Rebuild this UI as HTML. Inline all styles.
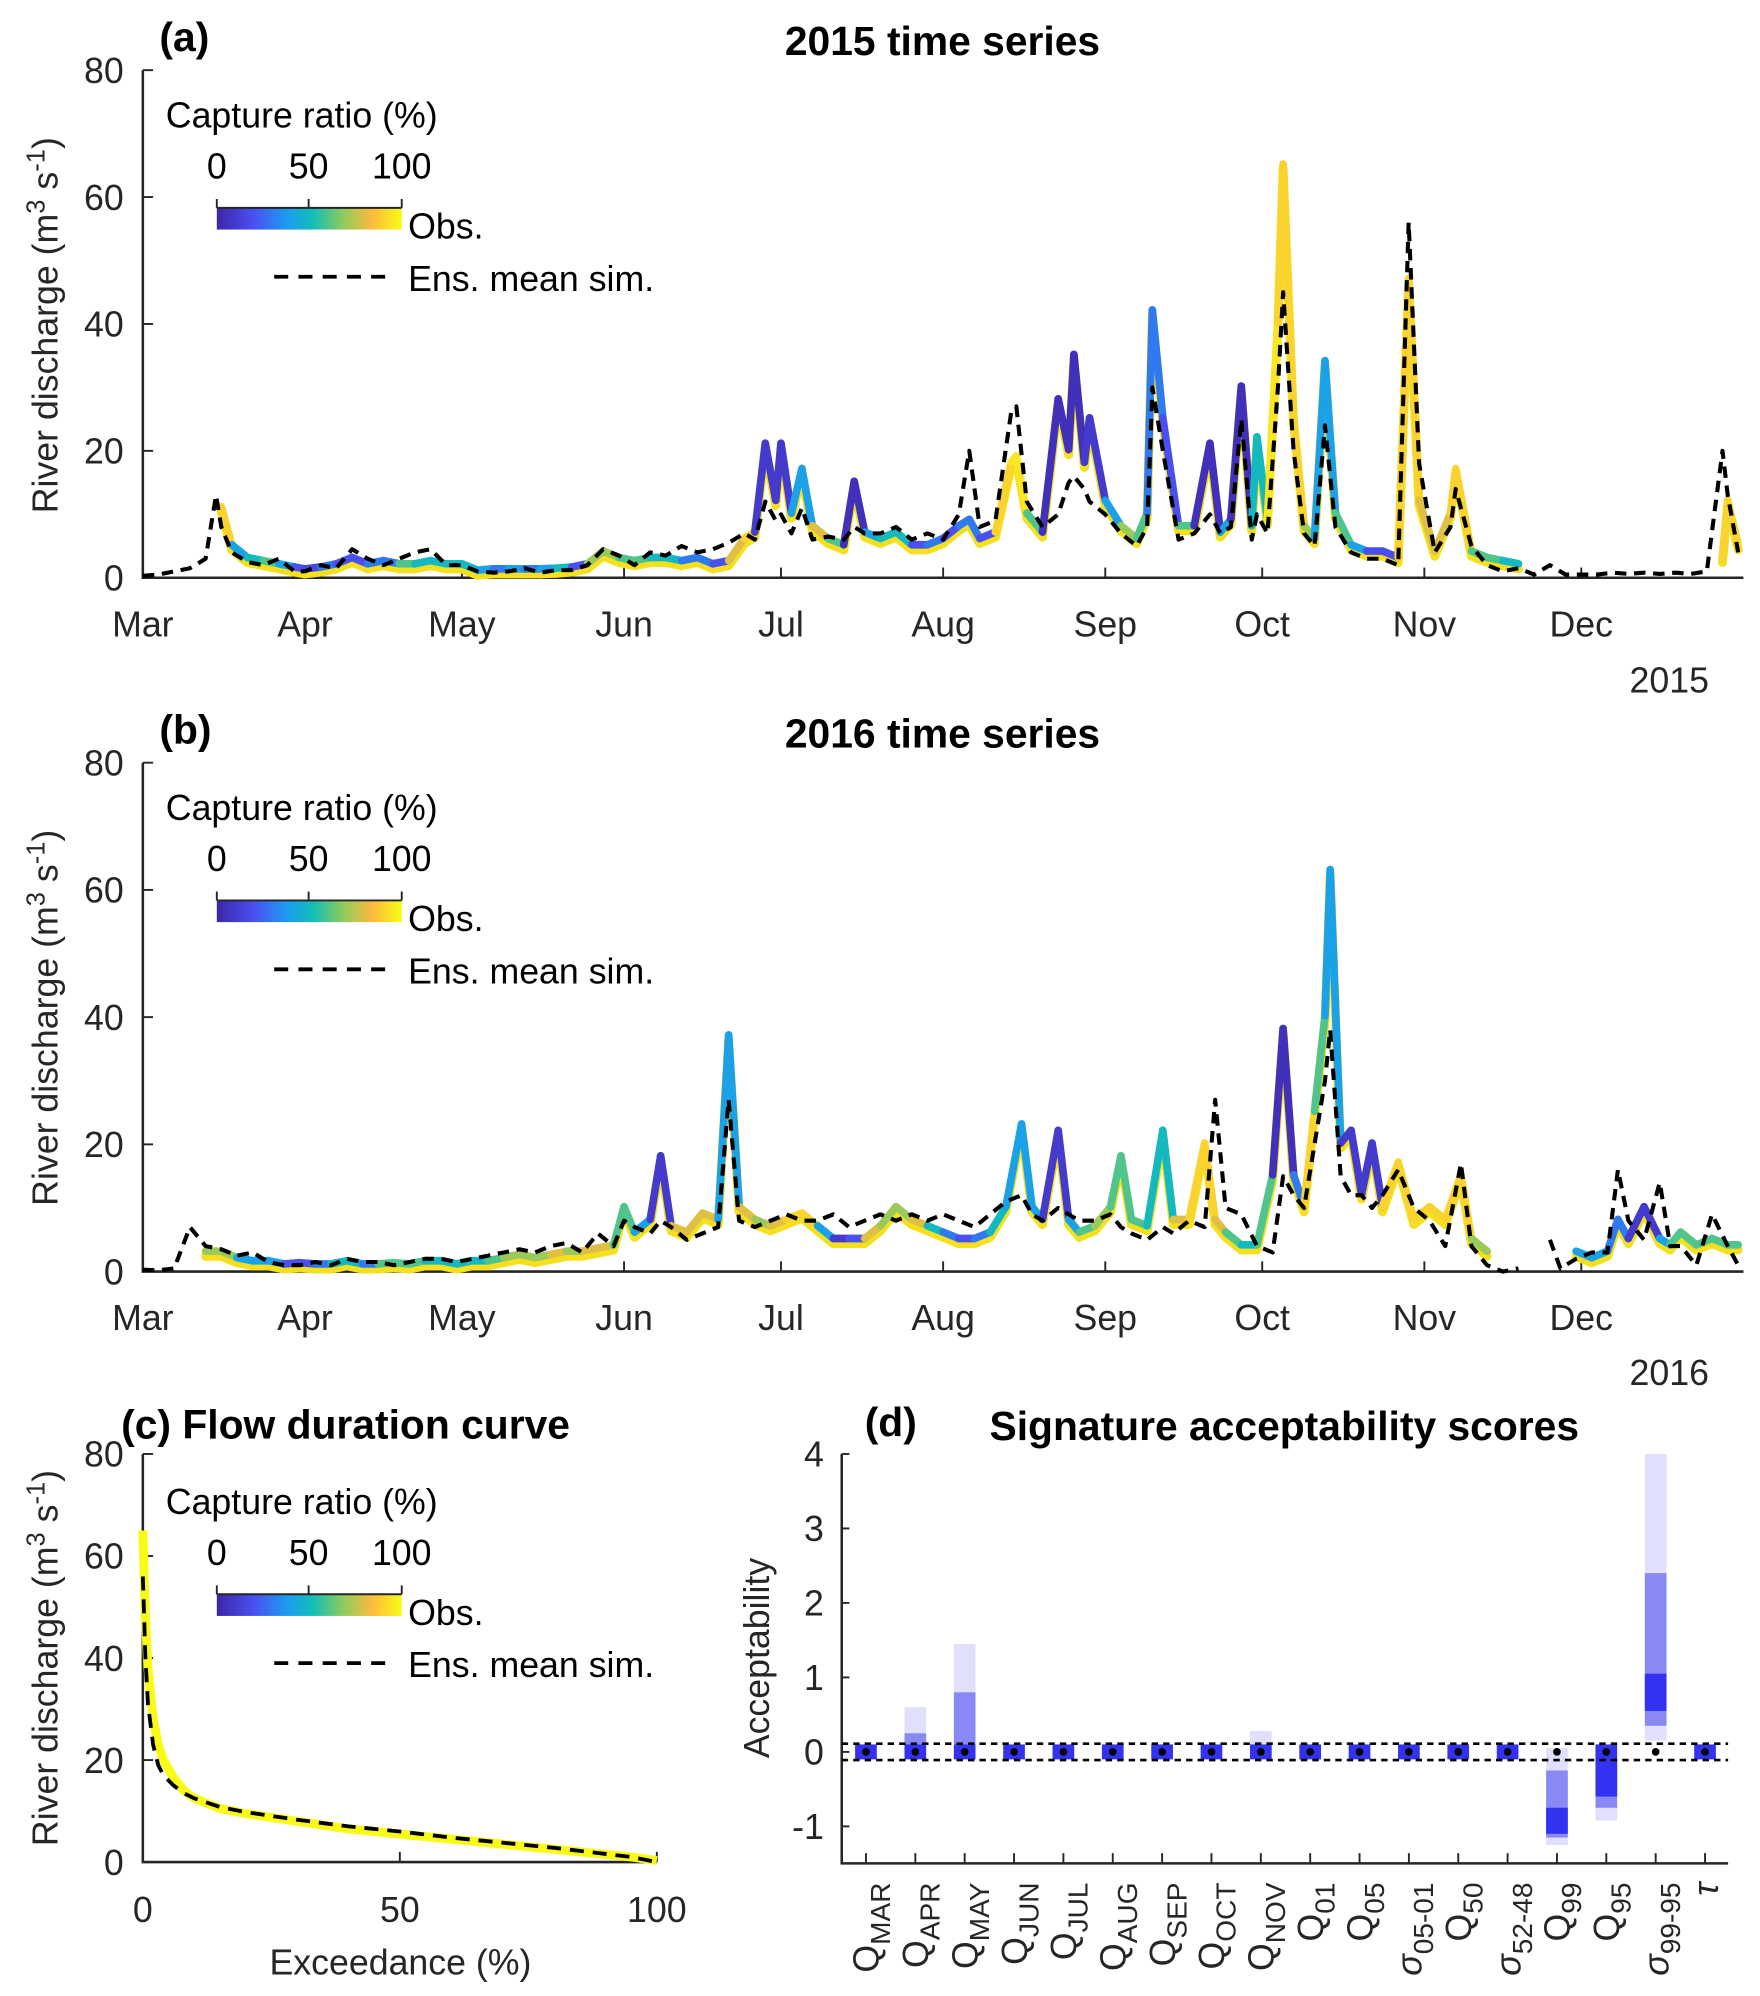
<!DOCTYPE html>
<html><head><meta charset="utf-8"><title>Discharge figure</title>
<style>
html,body{margin:0;padding:0;background:#fff;}
svg{display:block;font-family:"Liberation Sans",sans-serif;}
text{fill:#262626;}
.tk{font-size:28px;}
.ttl{font-size:32px;font-weight:bold;fill:#000;}
.lg{font-size:28px;fill:#000;}
</style></head>
<body>
<svg id="fig" width="1760" height="1996" viewBox="0 0 1380 1565" preserveAspectRatio="none" xmlns="http://www.w3.org/2000/svg">
<defs>
<linearGradient id="parula" x1="0" x2="1" y1="0" y2="0">
<stop offset="0" stop-color="#3e26a8"/><stop offset="0.2" stop-color="#4a50f0"/><stop offset="0.38" stop-color="#1c9cf0"/><stop offset="0.52" stop-color="#13beb8"/><stop offset="0.68" stop-color="#8dcb5e"/><stop offset="0.84" stop-color="#fcbb3d"/><stop offset="1" stop-color="#f9fb15"/>
</linearGradient>
</defs>
<g id="pa">
<text x="125" y="40" class="ttl">(a)</text>
<text x="739" y="43" class="ttl" text-anchor="middle">2015 time series</text>
<text transform="translate(45,255) rotate(-90)" class="tk" text-anchor="middle">River discharge (m<tspan dy="-10" font-size="20">3</tspan><tspan dy="10"> s</tspan><tspan dy="-10" font-size="20">-1</tspan><tspan dy="10">)</tspan></text>
<text x="1340" y="543" class="tk" text-anchor="end">2015</text>
<g id="pa-plot"></g>
<g>
<text x="130" y="100" class="lg">Capture ratio (%)</text>
<text x="170" y="140" class="lg" text-anchor="middle">0</text>
<text x="242" y="140" class="lg" text-anchor="middle">50</text>
<text x="315" y="140" class="lg" text-anchor="middle">100</text>
<rect x="170" y="163" width="145" height="17" fill="url(#parula)"/>
<path d="M170 163H315M170 163v-7M242 163v-7M315 163v-7" stroke="#262626" stroke-width="1.5" fill="none"/>
<text x="320" y="187" class="lg">Obs.</text>
<line x1="215" y1="217" x2="302" y2="217" stroke="#000" stroke-width="3" stroke-dasharray="11 8"/>
<text x="320" y="228" class="lg">Ens. mean sim.</text>
</g>
</g>
<g id="pb">
<text x="125" y="583" class="ttl">(b)</text>
<text x="739" y="586" class="ttl" text-anchor="middle">2016 time series</text>
<text transform="translate(45,798) rotate(-90)" class="tk" text-anchor="middle">River discharge (m<tspan dy="-10" font-size="20">3</tspan><tspan dy="10"> s</tspan><tspan dy="-10" font-size="20">-1</tspan><tspan dy="10">)</tspan></text>
<text x="1340" y="1086" class="tk" text-anchor="end">2016</text>
<g id="pb-plot"></g>
<g>
<text x="130" y="643" class="lg">Capture ratio (%)</text>
<text x="170" y="683" class="lg" text-anchor="middle">0</text>
<text x="242" y="683" class="lg" text-anchor="middle">50</text>
<text x="315" y="683" class="lg" text-anchor="middle">100</text>
<rect x="170" y="706" width="145" height="17" fill="url(#parula)"/>
<path d="M170 706H315M170 706v-7M242 706v-7M315 706v-7" stroke="#262626" stroke-width="1.5" fill="none"/>
<text x="320" y="730" class="lg">Obs.</text>
<line x1="215" y1="760" x2="302" y2="760" stroke="#000" stroke-width="3" stroke-dasharray="11 8"/>
<text x="320" y="771" class="lg">Ens. mean sim.</text>
</g>
</g>
<g id="pc">
<text x="95" y="1128" class="ttl">(c) Flow duration curve</text>
<text transform="translate(45,1300) rotate(-90)" class="tk" text-anchor="middle">River discharge (m<tspan dy="-10" font-size="20">3</tspan><tspan dy="10"> s</tspan><tspan dy="-10" font-size="20">-1</tspan><tspan dy="10">)</tspan></text>
<text x="314" y="1548" class="tk" text-anchor="middle">Exceedance (%)</text>
<g id="pc-plot"></g>
<g>
<text x="130" y="1187" class="lg">Capture ratio (%)</text>
<text x="170" y="1227" class="lg" text-anchor="middle">0</text>
<text x="242" y="1227" class="lg" text-anchor="middle">50</text>
<text x="315" y="1227" class="lg" text-anchor="middle">100</text>
<rect x="170" y="1250" width="145" height="17" fill="url(#parula)"/>
<path d="M170 1250H315M170 1250v-7M242 1250v-7M315 1250v-7" stroke="#262626" stroke-width="1.5" fill="none"/>
<text x="320" y="1274" class="lg">Obs.</text>
<line x1="215" y1="1304" x2="302" y2="1304" stroke="#000" stroke-width="3" stroke-dasharray="11 8"/>
<text x="320" y="1315" class="lg">Ens. mean sim.</text>
</g>
</g>
<g id="pd">
<text x="678" y="1126" class="ttl">(d)</text>
<text x="1007" y="1129" class="ttl" text-anchor="middle">Signature acceptability scores</text>
<text transform="translate(603,1300) rotate(-90)" class="tk" text-anchor="middle">Acceptability</text>
<g id="pd-plot"></g>
</g>
</svg>
<script>
// ===== 2015 data (day index from 1 Mar) =====
const days15 = [0,3,6,9,12,14,15,17,20,23,26,29,31,34,37,40,43,46,49,52,55,58,61,64,67,70,73,76,79,82,85,88,91,94,97,100,103,106,109,112,115,117,119,121,122,124,126,128,131,134,136,138,141,144,147,150,153,156,158,160,163,166,167,169,172,175,177,178,180,181,184,187,190,192,193,195,198,201,204,206,208,210,212,213,215,217,218,220,222,224,226,228,231,234,237,240,242,244,247,250,251,254,257,260,263,266,269,272,275,278,281,284,287,290,293,296,299,302,303,305];
const obs15 = [null,null,null,null,null,null,11,5,3,2.5,2,1.5,1.2,1.5,2,3,2,2.5,2,2,2.5,2,2,1,1.2,1.2,1.2,1.2,1.3,1.5,2,4,3,2.5,3,3,2.5,3,2,2.5,6,7,21,12,21,10,17,8,6,5,15,7,6,7,5,5,6,8,9,6,7,18,19,10,7,28,20,35,18,25,12,8,6,10,42,25,8,8,21,7,9,30,8,22,9,40,65,25,8,6,34,10,5,4,4,3,47,12,4,10,17,4,3,2.5,2,null,null,null,null,null,null,null,null,null,null,null,null,3,12,5];
const cap15 = [0,0,0,0,0,0,90,40,50,60,40,20,10,15,30,20,20,30,50,60,50,60,50,20,40,30,40,30,40,50,20,70,60,70,60,50,20,30,20,20,80,90,10,50,10,60,40,80,60,20,5,40,30,50,20,20,30,20,30,30,20,90,95,60,30,5,10,5,20,10,40,70,70,60,30,20,50,60,5,60,40,5,60,50,60,95,90,90,70,40,40,60,40,30,20,20,90,80,40,80,90,60,60,50,50,0,0,0,0,0,0,0,0,0,0,0,0,20,90,20];
const sim15 = [0.3,0.5,1,1.5,3,13,8,4,2.5,2,3,1,1,2,1.5,4.5,3,2,3,4,4.5,2,2,1,0.8,1,1.5,0.8,1.2,1.2,2,4.5,3.5,2,4,3.5,5,4,4.5,5.5,7,6,12,9,10,7,11,6,6.5,6,8,7,7,8,6,7,6,10,20,8,9,26,27,12,8,10,15,16,14,12,10,7,5,8,30,20,6,7,10,7,8,25,6,10,7,30,45,20,7,5,24,8,4,3,3,2,56,18,4,8,14,5,2,1,1.5,0.5,2,0.5,0.5,0.5,0.8,0.6,0.8,0.6,0.8,0.6,1,20,13,4];
// ===== 2016 data =====
const days16 = [0,3,6,9,12,15,18,21,24,27, 30,33,36,39,42,45,48,51,54,57, 60,63,66,69,72,75,78,81,84,87, 90,92,94,97,99,101,104,107,110,112, 114,117,120,123,126,129,132,135,138,141, 144,147,150,153,156,159,162,165,168,170, 172,175,177,179,182,185,187,189,192,195, 197,200,203,205,207,210,213,216,218,220, 222,224,226,227,229,231,233,235,237,240, 243,246,249,252,254,257,260,263,266,269, 271,274,277,280,282,284,287,290,292,294, 297,300,303,305];
const obs16 = [null,null,null,null,3,3,2,1.5,1.5,1, 1.2,1,1,1.5,1,1,1.2,1,1.5,1.5, 1,1.5,1.5,2,2.5,2,2.5,3,3,3.5, 4,10,6,8,18,7,6,9,8,37, 10,8,7,8,9,7,5,5,5,7, 10,8,7,6,5,5,6,10,23,10, 8,22,8,6,7,10,18,8,7,22, 8,8,20,8,6,4,4,15,38,15, 10,25,40,63,20,22,12,20,10,17, 8,10,8,15,5,3,null,null,null,null, null,3,2,3,8,5,10,5,4,6, 4,5,4,4];
const cap16 = [0,0,0,0,60,70,40,30,40,30, 20,40,30,50,40,30,60,40,60,50, 30,50,50,60,70,60,70,80,70,80, 80,60,60,40,10,80,70,80,90,40, 80,70,80,80,90,40,10,10,20,80, 70,80,50,30,20,20,30,50,40,40, 50,10,40,50,60,70,60,60,70,50, 80,80,90,80,60,50,50,60,5,30, 40,90,60,40,30,10,40,10,60,90, 40,90,40,90,70,80,0,0,0,0, 0,40,50,40,30,60,10,40,80,60, 70,60,60,60];
const sim16 = [0.3,0.2,0.5,7,4,3.5,2.5,3,1.5,1, 1,1.5,1,2,1.5,1.5,1,1.5,2,2, 1.5,2,2.5,3,3.5,3,4,4.5,3,6, 4,8,7,6,8,7,5,6,7,27, 8,7,8,9,8,8,9,7,8,9, 8,9,8,9,8,7,9,11,12,9, 8,10,9,8,8,9,7,6,5,7, 6,8,7,27,10,9,4,3,15,12, 10,20,30,38,15,12,12,10,12,16, 10,8,4,17,4,1,0,0.5,null,5, 0.5,2,3,3,16,8,5,14,4,4, 1,9,4,1];
// ===== Flow duration curve =====
const fdcExc = [0,0.5,1,2,3,4,6,8,10,15,20,30,40,50,60,70,80,90,95,100];
const fdcObs = [65,48,38,28,23,20,16.5,14,12.5,10.5,9.5,8,6.5,5.5,4.5,3.5,2.5,1.5,1,0.3];
const fdcSim = [56,40,31,23,19,17,15,13.5,12.5,10.8,9.8,8.3,7,6,4.8,3.8,2.8,1.6,1,0];
// ===== Signature acceptability =====
const sigCats = ["MAR","APR","MAY","JUN","JUL","AUG","SEP","OCT","NOV","01","05","05-01","50","52-48","99","95","99-95","tau"];
const sigSym = ["Q","Q","Q","Q","Q","Q","Q","Q","Q","Q","Q","σ","Q","σ","Q","Q","σ","τ"];
const coreLo = [-0.1,-0.1,-0.1,-0.1,-0.1,-0.1,-0.1,-0.1,-0.1,-0.1,-0.1,-0.1,-0.1,-0.1,-1.1,-0.6,0.55,-0.1];
const coreHi = [0.1,0.1,0.1,0.1,0.1,0.1,0.1,0.1,0.1,0.1,0.1,0.1,0.1,0.1,-0.75,0.1,1.05,0.1];
const midLo = [0,0.1,0.1,0,0,0,0,0,0,0,0,0,0,0,-1.15,-0.75,0.35,0];
const midHi = [0,0.25,0.8,0,0,0,0,0,0,0,0,0,0,0,-0.25,-0.1,2.4,0];
const fadeLo = [0,0.1,0.1,0,0,0,0,0,0.1,0,0,0,0,0,-1.25,-0.92,0.15,0];
const fadeHi = [0,0.6,1.45,0,0,0,0,0,0.28,0,0,0,0,0,0.05,-0.1,4.0,0];
const sigMedian = [0,0,0,0,0,0,0,0,0,0,0,0,0,0,0,0,0,0];

const NS = "http://www.w3.org/2000/svg";
const months = ["Mar","Apr","May","Jun","Jul","Aug","Sep","Oct","Nov","Dec"];
const monthDays = [0,31,61,92,122,153,184,214,245,275];
function mk(tag, attrs, parent){ const e=document.createElementNS(NS,tag); for(const k in attrs) e.setAttribute(k,attrs[k]); parent.appendChild(e); return e; }
const stops=[[0,[62,38,168]],[0.2,[74,80,240]],[0.38,[28,156,240]],[0.52,[19,190,184]],[0.68,[141,203,94]],[0.84,[252,187,61]],[1,[249,251,21]]];
function parula(p){ p=Math.max(0,Math.min(1,p/100)); for(let i=1;i<stops.length;i++){ if(p<=stops[i][0]){ const a=stops[i-1],b=stops[i],t=(p-a[0])/(b[0]-a[0]); const c=a[1].map((v,j)=>Math.round(v+(b[1][j]-v)*t)); return "rgb("+c.join(",")+")"; } } return "rgb(249,251,21)"; }

function drawTS(gid, days, obs, cap, sim, y0, yTop){
  const g=document.getElementById(gid);
  const xL=112,xR=1367;
  const xs=d=>xL+d*(xR-xL)/306;
  const ys=v=>y0-v*(y0-yTop)/80;
  const ax=mk("path",{d:"M"+xL+" "+yTop+"V"+y0+"H"+xR,stroke:"#262626","stroke-width":2,fill:"none"},g);
  
  
  [0,20,40,60,80].forEach(v=>{
    mk("line",{x1:xL,x2:xL+8,y1:ys(v),y2:ys(v),stroke:"#262626","stroke-width":1.5},g);
    const t=mk("text",{x:97,y:ys(v)+10,"text-anchor":"end",class:"tk"},g); t.textContent=v;
    
    
  });
  months.forEach((m,i)=>{
    const x=xs(monthDays[i]);
    mk("line",{x1:x,x2:x,y1:y0,y2:y0-8,stroke:"#262626","stroke-width":1.5},g);
    const t=mk("text",{x:x,y:y0+46,"text-anchor":"middle",class:"tk"},g); t.textContent=m;
    
    
  });
  const og=mk("g",{},g);
  
  
  // yellow base band (high capture members)
  for(let i=0;i<days.length-1;i++){
    if(obs[i]==null||obs[i+1]==null) continue;
    const b=mk("line",{x1:xs(days[i]),y1:ys(obs[i])+3,x2:xs(days[i+1]),y2:ys(obs[i+1])+3,stroke:"#f5e020","stroke-width":7,"stroke-linecap":"round"},og);
    
    
  }
  for(let i=0;i<days.length-1;i++){
    if(obs[i]==null||obs[i+1]==null) continue;
    const c=(obs[i]>obs[i+1])?cap[i]:cap[i+1];
    const s=mk("line",{x1:xs(days[i]),y1:ys(obs[i])-1,x2:xs(days[i+1]),y2:ys(obs[i+1])-1,stroke:parula(c),"stroke-width":6,"stroke-linecap":"round"},og);
    
    
  }
  let d=""; let pen=false;
  for(let i=0;i<days.length;i++){
    if(sim[i]==null){pen=false;continue;}
    d+=(pen?"L":"M")+xs(days[i]).toFixed(1)+" "+ys(sim[i]).toFixed(1); pen=true;
  }
  const sp=mk("path",{d:d,stroke:"#000","stroke-width":3.2,fill:"none","stroke-dasharray":"9 6","stroke-linejoin":"round"},g);
  
  
}
drawTS("pa-plot",days15,obs15,cap15,sim15,453,55);
drawTS("pb-plot",days16,obs16,cap16,sim16,997,598);

(function(){
  const g=document.getElementById("pc-plot");
  const xL=112,xR=515,y0=1460,yT=1140;
  const xs=v=>xL+v*(xR-xL)/100, ys=v=>y0-v*(y0-yT)/80;
  const ax=mk("path",{d:"M"+xL+" "+yT+"V"+y0+"H"+xR,stroke:"#262626","stroke-width":2,fill:"none"},g);
  
  
  [0,20,40,60,80].forEach(v=>{
    mk("line",{x1:xL,x2:xL+8,y1:ys(v),y2:ys(v),stroke:"#262626","stroke-width":1.5},g);
    const t=mk("text",{x:97,y:ys(v)+10,"text-anchor":"end",class:"tk"},g); t.textContent=v;
    
    
  });
  [0,50,100].forEach(v=>{
    mk("line",{x1:xs(v),x2:xs(v),y1:y0,y2:y0-8,stroke:"#262626","stroke-width":1.5},g);
    const t=mk("text",{x:xs(v),y:1507,"text-anchor":"middle",class:"tk"},g); t.textContent=v;
    
    
  });
  const po=mk("polyline",{points:fdcExc.map((e,i)=>xs(e)+","+ys(fdcObs[i])).join(" "),stroke:"#f9fb15","stroke-width":7,fill:"none","stroke-linejoin":"round"},g);
  
  
  const ps=mk("polyline",{points:fdcExc.map((e,i)=>xs(e)+","+ys(fdcSim[i])).join(" "),stroke:"#000","stroke-width":3,fill:"none","stroke-dasharray":"11 7"},g);
  
  
})();

(function(){
  const g=document.getElementById("pd-plot");
  const xL=660,xR=1355,yT=1140,yB=1461;
  const ys=v=>yT+(4-v)*(1432-yT)/5;
  const xs=i=>679+i*38.7;
  const ax=mk("path",{d:"M"+xL+" "+yT+"V"+yB+"H"+xR,stroke:"#262626","stroke-width":2,fill:"none"},g);
  
  
  [-1,0,1,2,3,4].forEach(v=>{
    mk("line",{x1:xL,x2:xL+6,y1:ys(v),y2:ys(v),stroke:"#262626","stroke-width":1.5},g);
    const t=mk("text",{x:646,y:ys(v)+10,"text-anchor":"end",class:"tk"},g); t.textContent=v;
    
    
  });
  const w=17;
  sigCats.forEach((c,i)=>{
    const x=xs(i);
    mk("line",{x1:x,x2:x,y1:yB,y2:yB-8,stroke:"#262626","stroke-width":1.5},g);
    if(fadeHi[i]>fadeLo[i]){ const r=mk("rect",{x:x-w/2,y:ys(fadeHi[i]),width:w,height:ys(fadeLo[i])-ys(fadeHi[i]),fill:"rgba(50,50,240,0.15)"},g);
      
       }
    if(midHi[i]>midLo[i]){ const r=mk("rect",{x:x-w/2,y:ys(midHi[i]),width:w,height:ys(midLo[i])-ys(midHi[i]),fill:"rgba(50,50,240,0.5)"},g);
      
       }
    const r=mk("rect",{x:x-w/2,y:ys(coreHi[i]),width:w,height:ys(coreLo[i])-ys(coreHi[i]),fill:"#3232f0"},g);
    
    
    const dot=mk("circle",{cx:x,cy:ys(sigMedian[i]),r:3,fill:"#000"},g);
    
    
    const t=mk("text",{transform:"translate("+(x+10)+",1476) rotate(-90)","text-anchor":"end",class:"tk"},g);
    
    
    if(c==="tau"){ t.textContent="τ"; t.setAttribute("font-style","italic"); }
    else {
      const s=document.createElementNS(NS,"tspan"); s.textContent=sigSym[i]; if(sigSym[i]==="σ") s.setAttribute("font-style","italic"); t.appendChild(s);
      const sub=document.createElementNS(NS,"tspan"); sub.setAttribute("dy","9"); sub.setAttribute("font-size","22"); sub.textContent=c; t.appendChild(sub);
    }
  });
  [0.11,-0.11].forEach(v=>{
    const l=mk("line",{x1:xL,x2:xR,y1:ys(v),y2:ys(v),stroke:"#000","stroke-width":2,"stroke-dasharray":"5 4"},g);
    
    
  });
})();
</script>
</body></html>
